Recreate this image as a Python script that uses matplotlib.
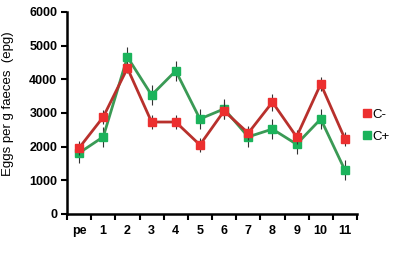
import matplotlib
matplotlib.use("Agg")
import matplotlib.pyplot as plt
from matplotlib.lines import Line2D
import numpy as np

plt.rcParams['font.family'] = ['Liberation Sans', 'DejaVu Sans']

labels = ['pe', '1', '2', '3', '4', '5', '6', '7', '8', '9', '10', '11']
c_minus = [1960, 2880, 4330, 2730, 2730, 2050, 3060, 2400, 3320, 2290, 3860, 2230]
c_minus_err = [200, 200, 150, 200, 200, 200, 250, 200, 250, 200, 200, 200]
c_plus = [1810, 2290, 4660, 3530, 4250, 2820, 3120, 2290, 2520, 2070, 2820, 1300]
c_plus_err = [300, 300, 300, 300, 300, 300, 300, 300, 300, 300, 300, 300]

x = np.arange(len(labels))

fig = plt.figure(figsize=(4, 2.59), dpi=100)
ax = fig.add_axes([0.1675, 0.174, 0.725, 0.78])

red_m, red_l = '#ec2f2f', '#b8302c'
grn_m, grn_l = '#1bb35b', '#3a9a55'

ax.errorbar(x, c_minus, yerr=c_minus_err, color=red_l, lw=2, ecolor='#333333',
            elinewidth=0.8, capsize=0, marker='s', ms=6, mfc=red_m, mec=red_m, zorder=3)
ax.errorbar(x, c_plus, yerr=c_plus_err, color=grn_l, lw=2, ecolor='#333333',
            elinewidth=0.8, capsize=0, marker='s', ms=6, mfc=grn_m, mec=grn_m, zorder=2)

ax.set_xlim(-0.5, 11.5)
ax.set_ylim(0, 6000)
ax.set_yticks(range(0, 6001, 1000))
ax.set_xticks(x)
ax.set_xticklabels(labels)
ax.set_xticks(np.arange(-0.5, 12, 1), minor=True)
ax.tick_params(axis='x', which='major', length=0, pad=8)
ax.tick_params(axis='x', which='minor', length=4, width=1.5)
ax.tick_params(axis='y', length=4, width=1.5, pad=3)
for lab in ax.get_xticklabels() + ax.get_yticklabels():
    lab.set_fontweight('bold')
    lab.set_fontsize(9)

for s in ['top', 'right']:
    ax.spines[s].set_visible(False)
for s in ['left', 'bottom']:
    ax.spines[s].set_linewidth(1.8)

ax.set_ylabel('Eggs per g faeces  (epg)', fontsize=9.5)
ax.yaxis.set_label_coords(-0.183, 0.545)

handles = [Line2D([], [], ls='none', marker='s', ms=6, mfc=red_m, mec=red_m),
           Line2D([], [], ls='none', marker='s', ms=6, mfc=grn_m, mec=grn_m)]
fig.legend(handles, ['C-', 'C+'], loc='center left', bbox_to_anchor=(0.877, 0.515),
           frameon=False, handlelength=0.6, handletextpad=0.1, labelspacing=0.75,
           fontsize=9.5)

fig.savefig('out.png', dpi=100)
